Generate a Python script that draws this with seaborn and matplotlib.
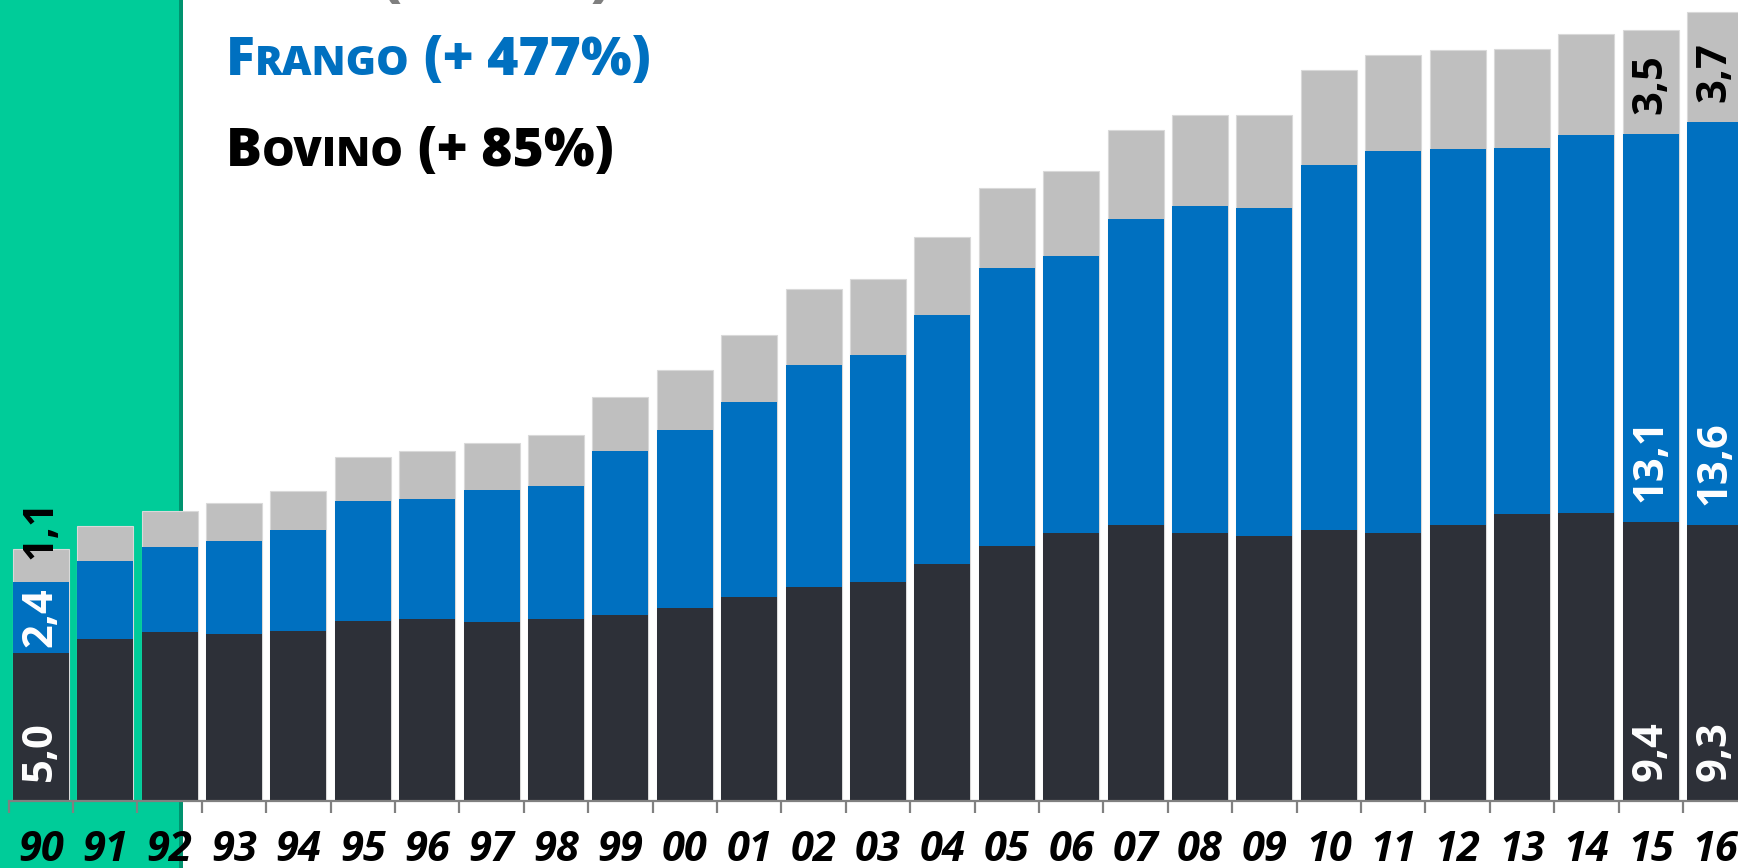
import numpy as np
import pandas as pd
import matplotlib
matplotlib.use("Agg")
import matplotlib.pyplot as plt
import seaborn as sns
from matplotlib.patches import Rectangle
from matplotlib.transforms import IdentityTransform, offset_copy

# ---------------- data ----------------
anos = ["90", "91", "92", "93", "94", "95", "96", "97", "98", "99",
        "00", "01", "02", "03", "04", "05", "06", "07", "08", "09",
        "10", "11", "12", "13", "14", "15", "16"]
bovino = [5.0, 5.47, 5.71, 5.64, 5.72, 6.06, 6.13, 6.05, 6.13, 6.26,
          6.50, 6.87, 7.23, 7.39, 7.98, 8.59, 9.03, 9.30, 9.03, 8.93,
          9.13, 9.03, 9.30, 9.67, 9.72, 9.4, 9.3]
frango = [2.4, 2.63, 2.87, 3.14, 3.41, 4.07, 4.07, 4.45, 4.50, 5.54,
          6.00, 6.59, 7.48, 7.65, 8.42, 9.38, 9.36, 10.33, 11.05, 11.06,
          12.33, 12.89, 12.69, 12.35, 12.73, 13.1, 13.6]
suino = [1.1, 1.16, 1.21, 1.26, 1.32, 1.46, 1.61, 1.56, 1.71, 1.84,
         2.02, 2.25, 2.56, 2.57, 2.61, 2.72, 2.86, 3.0, 3.04, 3.15,
         3.20, 3.24, 3.34, 3.34, 3.42, 3.5, 3.7]
anos_rotulados = ["90", "15", "16"]
legenda_nomes = ["Suíno", "Frango", "Bovino"]
legenda_var = ["+ 236%", "+ 477%", "+ 85%"]

# ---------------- style ----------------
C_BOV = "#2D3038"
C_FRA = "#0070C0"
C_SUI = "#BFBFBF"
C_VERDE = "#00CC99"
C_VERDE_ESC = "#00936F"
C_EIXO = "#808080"
C_LEG = ["#7F7F7F", C_FRA, "#000000"]

W, H, DPI = 1738, 868, 100
PX_UNIT = 29.65
BASE_PX = 801

sns.set_theme(style="white")
plt.rcParams["font.family"] = ["Open Sans", "DejaVu Sans"]

fig = plt.figure(figsize=(W / DPI, H / DPI), dpi=DPI, facecolor="white")
fig.add_artist(Rectangle((0, 0), 182 / W, 1, transform=fig.transFigure,
                         facecolor=C_VERDE, edgecolor="none", zorder=-2))
fig.add_artist(Rectangle((179 / W, 0), 3.5 / W, 1, transform=fig.transFigure,
                         facecolor=C_VERDE_ESC, edgecolor="none", zorder=-1))

ax = fig.add_axes([0, (H - BASE_PX) / H, 1, BASE_PX / H])
ax.set_facecolor("none")
ax.patch.set_alpha(0)

df = pd.DataFrame({"ano": anos, "bovino": bovino, "frango": frango, "suino": suino})
df["bf"] = df["bovino"] + df["frango"]
df["total"] = df["bf"] + df["suino"]

bw = 56 / 64.4
sns.barplot(data=df, x="ano", y="total", color=C_SUI, saturation=1, width=bw,
            edgecolor="#D9D9D9", linewidth=0.8, ax=ax, zorder=2)
sns.barplot(data=df, x="ano", y="bf", color=C_FRA, saturation=1, width=bw,
            edgecolor="none", linewidth=0, ax=ax, zorder=3)
sns.barplot(data=df, x="ano", y="bovino", color=C_BOV, saturation=1, width=bw,
            edgecolor="none", linewidth=0, ax=ax, zorder=4)

x_left = -40.7 / 64.4
x_right = (W - 40.7) / 64.4
ax.set_xlim(x_left, x_right)
ax.set_ylim(0, BASE_PX / PX_UNIT)
ax.set_xlabel("")
ax.set_ylabel("")
ax.set_yticks([])
for s in ["top", "right", "left"]:
    ax.spines[s].set_visible(False)
ax.spines["bottom"].set_color(C_EIXO)
ax.spines["bottom"].set_linewidth(1.6)
ax.spines["bottom"].set_bounds(-0.5, x_right)
ax.spines["bottom"].set_zorder(5)

ax.set_xticks(range(len(anos)))
ax.set_xticklabels(anos, fontsize=30, fontweight="bold", fontstyle="italic", color="black")
ax.tick_params(axis="x", which="major", length=0, pad=21)
ax.set_xticks(np.arange(-0.5, len(anos) - 0.5, 1), minor=True)
ax.tick_params(axis="x", which="minor", length=8.6, width=1.6, color=C_EIXO,
               direction="out", bottom=True)

# ---------------- data labels ----------------
def fmt(v):
    return f"{v:.1f}".replace(".", ",")

off_padrao = 20
off_especial = {("90", "frango"): 6, ("90", "suino"): 23}
for a in anos_rotulados:
    i = anos.index(a)
    segs = [("bovino", 0.0, bovino[i], "white"),
            ("frango", bovino[i], frango[i], "white"),
            ("suino", bovino[i] + frango[i], suino[i], "black")]
    for nome, base, val, cor in segs:
        off = off_especial.get((a, nome), off_padrao)
        tr = offset_copy(ax.transData, fig=fig, x=0, y=off, units="dots")
        ax.text(i, base, fmt(val), transform=tr, rotation=90, rotation_mode="anchor",
                ha="left", va="center", fontsize=30, fontweight="bold", color=cor,
                zorder=6)

# ---------------- legend text (small caps) ----------------
fig.canvas.draw()
r = fig.canvas.get_renderer()

def linha(x, y, palavra, var, cor):
    pecas = [(palavra[0].upper(), 38.5), (palavra[1:].upper(), 29.5), (" (" + var + ")", 38.5)]
    for s, fs in pecas:
        t = fig.text(x, y, s, transform=IdentityTransform(), fontsize=fs, color=cor,
                     fontweight=800, va="baseline", ha="left")
        x = t.get_window_extent(r).x1

baselines = [H + 4, H - 75, H - 166]
for nome, var, cor, yb in zip(legenda_nomes, legenda_var, C_LEG, baselines):
    linha(226, yb, nome, var, cor)

fig.savefig("out.png", dpi=DPI, facecolor="white")
